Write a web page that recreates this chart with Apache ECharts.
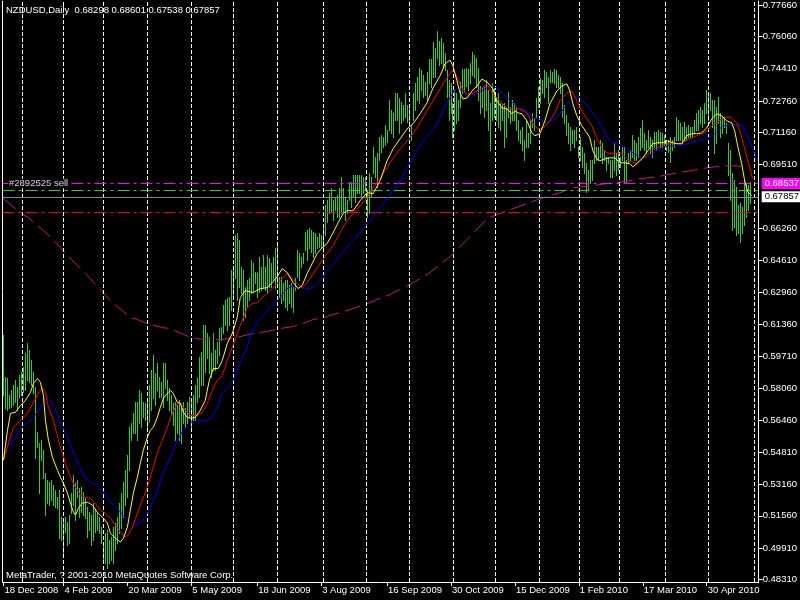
<!DOCTYPE html>
<html><head><meta charset="utf-8">
<script src="https://cdn.jsdelivr.net/npm/echarts@6/dist/echarts.min.js"></script>
<style>html,body{margin:0;padding:0;background:#000;}#c{width:800px;height:600px;}</style>
</head><body><div id="c"></div>
<script>
// ---- data ----
const symbolTitle = 'NZDUSD,Daily  0.68298 0.68601 0.67538 0.67857';
const copyright = 'MetaTrader, ? 2001-2010 MetaQuotes Software Corp.';
const orderText = '#2892525 sell';

const barHigh = [
.6077,.5863,.5858,.5771,.5797,.5822,.5848,.5812,.5873,.5889,
.5914,.5986,.6037,.6001,.5950,.5889,.5812,.5583,.5527,.5542,
.5491,.5374,.5338,.5328,.5338,.5312,.5287,.5251,.5287,.5149,
.5134,.5149,.5124,.5160,.5271,.5363,.5323,.5338,.5297,.5302,
.5277,.5246,.5200,.5175,.5160,.5221,.5185,.5170,.5149,.5098,
.5017,.5068,.5083,.5032,.5047,.5098,.5119,.5149,.5221,.5271,
.5328,.5389,.5465,.5608,.5629,.5680,.5736,.5736,.5797,.5782,
.5736,.5731,.5746,.5822,.5899,.5975,.5884,.5935,.5863,.5838,
.5935,.5935,.5848,.5807,.5771,.5731,.5736,.5720,.5746,.5710,
.5736,.5705,.5736,.5761,.5756,.5771,.5822,.5858,.5965,.5991,
.6129,.6129,.6088,.6067,.5986,.6088,.6001,.6042,.6113,.6118,
.6230,.6256,.6266,.6271,.6409,.6419,.6587,.6598,.6562,.6424,
.6409,.6322,.6358,.6368,.6460,.6445,.6399,.6394,.6475,.6424,
.6486,.6424,.6486,.6470,.6445,.6475,.6521,.6547,.6373,.6373,
.6343,.6358,.6358,.6333,.6343,.6322,.6368,.6511,.6496,.6475,
.6496,.6603,.6613,.6623,.6613,.6603,.6598,.6577,.6598,.6587,
.6623,.6741,.6766,.6802,.6827,.6766,.6776,.6792,.6827,.6883,
.6827,.6781,.6766,.6858,.6858,.6893,.6893,.6893,.6893,.6893,
.6883,.6883,.6817,.6904,.6883,.7036,.6985,.7005,.7087,.7097,
.7087,.7148,.7123,.7276,.7225,.7210,.7312,.7312,.7286,.7266,
.7251,.7312,.7251,.7240,.7148,.7312,.7363,.7394,.7444,.7429,
.7404,.7368,.7419,.7490,.7490,.7572,.7546,.7633,.7582,.7597,
.7567,.7516,.7429,.7378,.7363,.7261,.7327,.7312,.7276,.7368,
.7439,.7439,.7444,.7439,.7465,.7521,.7506,.7495,.7444,.7352,
.7342,.7342,.7378,.7327,.7261,.7363,.7337,.7276,.7312,.7261,
.7261,.7261,.7235,.7317,.7240,.7276,.7261,.7240,.7174,.7123,
.7138,.7072,.7174,.7108,.7174,.7210,.7184,.7286,.7342,.7388,
.7378,.7429,.7419,.7394,.7429,.7419,.7439,.7429,.7404,.7394,
.7363,.7251,.7200,.7159,.7138,.7123,.7123,.7138,.7036,.7087,
.7036,.7005,.6954,.6919,.6970,.6970,.7072,.7036,.7036,.7072,
.7057,.7021,.6985,.6985,.6970,.6970,.7057,.7005,.7021,.6985,
.7036,.7036,.6970,.7005,.7021,.7097,.7072,.7057,.7087,.7133,
.7174,.7108,.7072,.7123,.7087,.7072,.7113,.7113,.7123,.7113,
.7108,.7097,.7072,.7072,.7087,.7072,.7087,.7189,.7174,.7159,
.7138,.7164,.7138,.7148,.7138,.7138,.7174,.7210,.7225,.7240,
.7225,.7261,.7327,.7317,.7312,.7276,.7276,.7240,.7291,.7210,
.7189,.7189,.7159,.7057,.7021,.6904,.6868,.6832,.6741,.6751,
.6730,.6868,.6853,.6842,.6860
];
const barLow = [
.5771,.5705,.5695,.5705,.5710,.5720,.5736,.5695,.5761,.5771,
.5787,.5797,.5848,.5838,.5822,.5782,.5450,.5506,.5271,.5440,
.5348,.5160,.5221,.5211,.5236,.5211,.5200,.5195,.5042,.5032,
.4946,.5073,.5006,.5017,.5170,.5211,.5134,.5251,.5149,.5175,
.5160,.5144,.5047,.5083,.5006,.5032,.5073,.5083,.5068,.5017,
.4915,.4915,.4889,.4915,.4930,.4915,.4981,.5017,.5068,.5093,
.5149,.5211,.5251,.5389,.5542,.5578,.5578,.5542,.5629,.5608,
.5659,.5644,.5593,.5634,.5695,.5756,.5720,.5797,.5761,.5761,
.5710,.5807,.5746,.5695,.5670,.5619,.5542,.5578,.5542,.5527,
.5629,.5608,.5629,.5659,.5593,.5644,.5644,.5736,.5761,.5822,
.5822,.5889,.5960,.5884,.5863,.5899,.5899,.5935,.5975,.6052,
.6088,.6129,.6103,.6129,.6205,.6271,.6368,.6256,.6322,.6292,
.6154,.6169,.6220,.6256,.6292,.6297,.6343,.6271,.6297,.6307,
.6317,.6307,.6292,.6322,.6322,.6358,.6317,.6322,.6271,.6241,
.6256,.6220,.6205,.6241,.6220,.6195,.6307,.6373,.6358,.6424,
.6445,.6511,.6460,.6521,.6501,.6475,.6496,.6521,.6526,.6521,
.6501,.6587,.6654,.6700,.6705,.6664,.6715,.6680,.6680,.6700,
.6700,.6664,.6700,.6766,.6730,.6781,.6756,.6802,.6802,.6781,
.6802,.6817,.6680,.6700,.6781,.6904,.6883,.6832,.6970,.7011,
.7036,.7046,.7062,.7123,.7108,.7087,.7174,.7174,.7108,.7159,
.7174,.7189,.7164,.7159,.7072,.7174,.7225,.7276,.7261,.7327,
.7291,.7302,.7276,.7363,.7342,.7394,.7394,.7495,.7455,.7465,
.7444,.7429,.7291,.7174,.7210,.7087,.7123,.7159,.7174,.7240,
.7312,.7317,.7352,.7327,.7363,.7404,.7394,.7342,.7276,.7210,
.7240,.7189,.7225,.7123,.7021,.7174,.7189,.7174,.7138,.7123,
.7174,.7036,.7087,.7189,.7159,.7174,.7174,.7123,.7072,.7057,
.7021,.6970,.7036,.7036,.7057,.7138,.7123,.7189,.7240,.7261,
.7312,.7291,.7342,.7261,.7368,.7368,.7363,.7342,.7342,.7312,
.7189,.7159,.7097,.7057,.7021,.7057,.7036,.7072,.6985,.6970,
.6934,.6904,.6807,.6817,.6853,.6868,.6954,.6970,.6970,.6985,
.6954,.6970,.6919,.6954,.6883,.6883,.6919,.6893,.6919,.6934,
.6970,.6853,.6853,.6954,.6970,.6985,.6970,.6970,.6985,.7021,
.7036,.7021,.7005,.7036,.7005,.6985,.7036,.7021,.7057,.7036,
.7036,.7046,.7021,.7011,.6960,.7021,.7036,.7072,.7072,.7072,
.7057,.7072,.7072,.7087,.7087,.7087,.7108,.7123,.7123,.7159,
.7138,.7159,.7210,.7174,.7225,.7138,.7005,.7057,.7159,.7087,
.7108,.7138,.7108,.6893,.6766,.6613,.6628,.6587,.6598,.6552,
.6598,.6638,.6680,.6715,.6754
];

// moving averages: [bar index, price]
const maYellow = [[0,.5440],[2,.5593],[3.5,.5680],[6,.5685],[8.5,.5720],[11,.5746],[13.5,.5787],[15,.5833],[17,.5858],[18.5,.5838],[20,.5771],[21,.5644],[22.5,.5542],[24.5,.5455],[27,.5389],[28.5,.5353],[30,.5323],[32,.5272],[33.5,.5221],[35,.5175],[36,.5160],[37.5,.5195],[39.5,.5221],[42,.5226],[44.5,.5211],[47,.5175],[49.5,.5149],[52,.5119],[53.5,.5068],[56,.5042],[58.5,.5022],[60,.5042],[62,.5098],[63.5,.5185],[65,.5272],[67,.5353],[68.5,.5425],[70,.5491],[72,.5557],[73.5,.5593],[75,.5608],[77,.5659],[78.5,.5710],[80,.5756],[82,.5782],[83.5,.5797],[85,.5782],[87,.5736],[88.5,.5731],[90,.5685],[92,.5659],[93.5,.5654],[96,.5659],[98.5,.5695],[101,.5746],[103,.5848],[105,.5909],[107.5,.5909],[109.5,.5950],[112,.6037],[114.5,.6088],[117,.6169],[118.5,.6271],[121,.6307],[125,.6297],[128.5,.6317],[132,.6322],[135,.6353],[137,.6378],[139.5,.6419],[142,.6399],[145,.6348],[147.5,.6317],[149.5,.6333],[152,.6394],[154.5,.6445],[157,.6496],[159.5,.6526],[162,.6547],[165,.6603],[167.5,.6654],[170,.6700],[172,.6715],[175,.6715],[178.5,.6766],[182,.6807],[185,.6802],[188.5,.6868],[192,.6970],[195,.7031],[198.5,.7082],[202,.7133],[205,.7159],[208.5,.7210],[212,.7266],[215,.7342],[218.5,.7404],[221,.7465],[223.5,.7485],[225,.7454],[227,.7378],[228.5,.7317],[230,.7286],[232,.7291],[234.5,.7327],[237,.7352],[239.5,.7388],[240.5,.7393],[242.5,.7368],[245,.7337],[247,.7276],[249.5,.7240],[252,.7235],[254.5,.7210],[256,.7225],[257.5,.7215],[259.5,.7210],[262,.7174],[264.5,.7113],[266,.7098],[268.5,.7108],[271,.7174],[273.5,.7261],[277,.7327],[279.5,.7352],[282,.7363],[283.5,.7327],[285,.7261],[287,.7200],[289.5,.7149],[292,.7113],[293.5,.7087],[295,.7021],[297,.6980],[298.5,.6970],[301,.6980],[303.5,.6985],[306,.6985],[308.5,.6960],[311,.6960],[313.5,.6955],[315,.6939],[317.5,.6960],[320,.6985],[322.5,.7021],[325,.7057],[327.5,.7062],[330,.7062],[332.5,.7072],[335,.7062],[337.5,.7057],[339.5,.7057],[342,.7098],[344.5,.7108],[347,.7108],[349.5,.7113],[352,.7138],[354.5,.7184],[357,.7210],[359.5,.7200],[362,.7174],[364.5,.7164],[366,.7123],[367.5,.7046],[369.5,.6955],[371,.6868],[372.5,.6812],[374.5,.6792]];

const maRed = [[0,.5440],[2.5,.5527],[5,.5608],[8.5,.5644],[12,.5680],[15,.5736],[17.5,.5782],[19.5,.5807],[21,.5787],[22.5,.5710],[25,.5644],[27.5,.5542],[29.5,.5476],[31,.5425],[33.5,.5353],[36,.5302],[38.5,.5262],[41,.5251],[43.5,.5246],[46,.5221],[48.5,.5185],[51,.5170],[53.5,.5144],[56,.5109],[58.5,.5073],[61,.5047],[62.5,.5058],[64.5,.5098],[67,.5170],[69.5,.5236],[72,.5302],[74.5,.5389],[77,.5476],[79.5,.5542],[82,.5608],[84.5,.5680],[87,.5731],[88.5,.5736],[91,.5695],[93.5,.5670],[97,.5670],[99.5,.5685],[102,.5731],[104.5,.5797],[107,.5848],[109.5,.5873],[112,.5950],[114.5,.6016],[117,.6088],[119.5,.6154],[122,.6220],[124.5,.6241],[127,.6246],[129.5,.6271],[132,.6292],[134.5,.6317],[137,.6343],[139.5,.6368],[142,.6394],[144.5,.6368],[147,.6343],[149.5,.6322],[152,.6348],[154.5,.6384],[157,.6424],[159.5,.6460],[162,.6496],[165,.6537],[168.5,.6603],[172,.6664],[175,.6700],[178.5,.6741],[182,.6781],[185,.6832],[188.5,.6883],[192,.6934],[195,.6985],[198.5,.7031],[202,.7072],[205,.7108],[208.5,.7164],[212,.7225],[215,.7276],[218.5,.7337],[222,.7393],[224.5,.7429],[226,.7419],[227.5,.7388],[229.5,.7342],[232,.7312],[234.5,.7312],[237,.7327],[239.5,.7342],[242,.7363],[244.5,.7317],[247,.7291],[249.5,.7266],[252,.7240],[255,.7235],[258.5,.7235],[262,.7215],[265,.7159],[267.5,.7133],[270,.7138],[273.5,.7174],[276,.7215],[278.5,.7276],[282,.7317],[284.5,.7327],[287,.7276],[289.5,.7225],[292,.7184],[294.5,.7149],[297,.7087],[299.5,.7036],[302,.7011],[304.5,.7006],[307,.7011],[309.5,.7006],[312,.6980],[314.5,.6960],[317,.6960],[319.5,.6980],[322,.6996],[324.5,.7021],[327,.7036],[329.5,.7046],[332,.7057],[337,.7057],[339.5,.7062],[342,.7077],[344.5,.7087],[347,.7098],[349.5,.7108],[352,.7123],[354.5,.7149],[357,.7164],[359.5,.7184],[362,.7194],[364.5,.7189],[367,.7164],[369,.7108],[371,.7031],[373,.6955],[375,.6878]];

const maBlue = [[0,.5532],[3.5,.5517],[6,.5557],[8.5,.5603],[12,.5629],[15,.5659],[18.5,.5710],[21,.5756],[23.5,.5746],[26,.5695],[28.5,.5634],[31,.5578],[33.5,.5517],[36,.5455],[38.5,.5399],[41,.5348],[43.5,.5328],[47,.5313],[49.5,.5287],[52,.5246],[55,.5211],[58.5,.5175],[62,.5134],[64.5,.5119],[66,.5109],[68.5,.5119],[71,.5149],[73.5,.5200],[77,.5287],[80,.5374],[83.5,.5455],[87,.5542],[90,.5593],[93.5,.5629],[97,.5644],[102,.5644],[104.5,.5659],[107,.5710],[109.5,.5782],[112,.5807],[114.5,.5838],[117,.5899],[119.5,.5965],[122,.6016],[123.5,.6078],[126,.6129],[128.5,.6164],[131,.6190],[133.5,.6220],[136,.6246],[138.5,.6271],[141,.6307],[143.5,.6327],[148.5,.6322],[153.5,.6317],[156,.6333],[158.5,.6358],[161,.6394],[163.5,.6424],[168.5,.6486],[173.5,.6547],[178.5,.6603],[183.5,.6664],[187,.6715],[192,.6776],[197,.6843],[200,.6893],[203.5,.6960],[207,.7021],[210,.7072],[213.5,.7108],[217,.7159],[220,.7225],[222.5,.7276],[225,.7317],[227.5,.7342],[230,.7327],[232.5,.7301],[235,.7301],[237.5,.7317],[241,.7337],[244.5,.7352],[247,.7342],[249.5,.7317],[252,.7291],[255,.7266],[258.5,.7240],[262,.7225],[265,.7189],[268.5,.7184],[272,.7164],[275,.7174],[278.5,.7210],[282,.7261],[285,.7291],[287.5,.7301],[290,.7276],[292.5,.7251],[295,.7215],[297.5,.7184],[300,.7133],[302.5,.7087],[305,.7062],[307.5,.7057],[310,.7046],[312.5,.7031],[315,.7011],[317.5,.6996],[320,.6985],[322.5,.6990],[325,.7006],[327.5,.7031],[330,.7036],[332.5,.7046],[337.5,.7046],[342.5,.7057],[347.5,.7072],[352.5,.7087],[355,.7098],[357.5,.7123],[360,.7149],[365,.7154],[370,.7149],[373.5,.7072],[376,.7006],[377.5,.6970]];

const maLong = [[0,.6776],[8.5,.6705],[12.5,.6679],[20,.6613],[24.5,.6572],[32,.6486],[43.5,.6368],[47.5,.6322],[55,.6241],[59.5,.6205],[63.5,.6169],[67,.6159],[72,.6139],[79.5,.6118],[83.5,.6113],[90,.6083],[95,.6062],[102.5,.6057],[108.5,.6057],[113.5,.6062],[118.5,.6072],[125,.6088],[132,.6098],[138.5,.6113],[145,.6123],[150,.6139],[155,.6159],[160,.6169],[163.5,.6180],[173.5,.6210],[183.5,.6246],[193.5,.6287],[203.5,.6338],[213.5,.6399],[223.5,.6480],[233.5,.6582],[242,.6674],[252,.6715],[262,.6751],[268.5,.6776],[278.5,.6807],[285,.6832],[293.5,.6842],[302,.6853],[310,.6863],[318.5,.6878],[327,.6888],[335,.6904],[343.5,.6919],[352,.6934],[360,.6944],[367,.6944],[372,.6934]];

const priceTicks = [0.4831,0.4991,0.5156,0.5316,0.5481,0.5646,0.5806,0.5971,0.6136,0.6296,0.6461,0.6626,0.6951,0.7116,0.7276,0.7441,0.7606,0.7766];
const dateLabels = ['18 Dec 2008','4 Feb 2009','20 Mar 2009','5 May 2009','18 Jun 2009','3 Aug 2009','16 Sep 2009','30 Oct 2009','15 Dec 2009','1 Feb 2010','17 Mar 2010','30 Apr 2010'];
const dateLabelIdx = [0,30,62,94,127,159,192,224,256,288,320,352];
const monthSeparators = [9.5,30,50,72,94,115,137,160,181.5,203,225,246,268,288,308,331,353,376];
const orderOpen = 0.68537;
const orderGreen = 0.68196;
const bidPrice = 0.67857;
const orderRed = 0.67074;

// ---- chart ----
const FONT = 'Liberation Sans';
const FS = 9.5;
const chart = echarts.init(document.getElementById('c'));
const dashDot = [12,4,3,4];
chart.setOption({
  backgroundColor:'#000',
  animation:false,
  textStyle:{fontFamily:FONT, fontSize:FS},
  title:{text:symbolTitle, left:6, top:5, padding:0,
    textStyle:{color:'#fff', fontSize:FS, fontWeight:'normal', fontFamily:FONT}},
  graphic:[{type:'text', left:6, top:570, z:50,
    style:{text:copyright, fill:'#fff', font:FS+'px '+FONT}}],
  grid:{left:2.5, top:0, width:757, height:582, show:false},
  xAxis:{type:'value', min:-0.5, max:378,
    axisLine:{onZero:false, lineStyle:{color:'#fff', width:1}},
    axisTick:{show:true, customValues:dateLabelIdx, length:4, lineStyle:{color:'#fff'}},
    axisLabel:{customValues:dateLabelIdx, color:'#fff', fontSize:FS, fontFamily:FONT, align:'left', margin:3, padding:[0,0,0,1],
      formatter:v=>dateLabels[dateLabelIdx.indexOf(v)] || ''},
    splitLine:{show:false}},
  yAxis:[
    {type:'value', position:'right', min:0.4818, max:0.7786,
      axisLine:{show:true, onZero:false, lineStyle:{color:'#fff'}},
      axisTick:{show:true, customValues:priceTicks, length:4, lineStyle:{color:'#fff'}},
      axisLabel:{customValues:priceTicks, color:'#fff', fontSize:FS, fontFamily:FONT, margin:4,
        formatter:v=>v.toFixed(5)},
      splitLine:{show:false}},
    {type:'value', position:'left', min:0.4818, max:0.7786,
      axisLine:{show:true, onZero:false, lineStyle:{color:'#fff'}},
      axisTick:{show:false}, axisLabel:{show:false}, splitLine:{show:false}}
  ],
  series:[
    {type:'line', name:'separators', data:[], z:1, silent:true,
      markLine:{silent:true, symbol:['none','none'], animation:false, label:{show:false},
        lineStyle:{color:'#fff', type:[4,2], width:1},
        data:monthSeparators.map(v=>({xAxis:v}))}},
    {type:'line', name:'orders', data:[], z:2, silent:true,
      markLine:{silent:true, symbol:['none','none'], animation:false, precision:5,
        data:[
          {yAxis:orderGreen, lineStyle:{color:'#32cd32', type:dashDot, width:1}, label:{show:false}},
          {yAxis:orderRed, lineStyle:{color:'#ff0000', type:dashDot, width:1}, label:{show:false}},
          {yAxis:orderOpen, lineStyle:{color:'#ff00ff', type:dashDot, width:1},
            label:{show:true, position:'end', distance:3, formatter:p=>Number(p.value).toFixed(5),
              backgroundColor:'#ff00ff', color:'#fff', padding:[1,5,0,3], fontSize:FS, fontFamily:FONT, lineHeight:10}},
          {yAxis:bidPrice, lineStyle:{color:'#778899', type:'solid', width:1},
            label:{show:true, position:'end', distance:3, formatter:p=>Number(p.value).toFixed(5),
              backgroundColor:'#fff', color:'#000', padding:[1,5,0,3], fontSize:FS, fontFamily:FONT, lineHeight:10}}
        ]}},
    {type:'custom', name:'bars', z:3, silent:true,
      data:barHigh.map((h,i)=>[i,h,barLow[i]]),
      encode:{x:0, y:[1,2]},
      renderItem:(params, api)=>{
        const i = api.value(0);
        const a = api.coord([i, api.value(1)]);
        const b = api.coord([i, api.value(2)]);
        const x = Math.round(a[0] - 0.5);
        const y0 = Math.floor(a[1]);
        return {type:'rect', shape:{x:x, y:y0, width:1, height:Math.max(1, Math.ceil(b[1]) - y0)},
          style:{fill:'#32cd32', stroke:null}};
      }},
    {type:'line', name:'MA long', data:maLong, showSymbol:false, z:4, silent:true,
      lineStyle:{color:'#c71585', width:1, type:[16,6]}},
    {type:'line', name:'MA slow', data:maBlue, showSymbol:false, z:5, silent:true,
      lineStyle:{color:'#0000ff', width:1}},
    {type:'line', name:'MA mid', data:maRed, showSymbol:false, z:6, silent:true,
      lineStyle:{color:'#ff0000', width:1}},
    {type:'line', name:'MA fast', data:maYellow, showSymbol:false, z:7, silent:true,
      lineStyle:{color:'#ffff00', width:1}},
    {type:'scatter', name:'order', data:[[1, orderOpen]], symbolSize:1, z:8, silent:true,
      itemStyle:{color:'rgba(0,0,0,0)'},
      labelLayout:{hideOverlap:false},
      label:{show:true, position:'right', distance:2, formatter:orderText, color:'#fff',
        backgroundColor:'#000', padding:[0,1,0,1], fontSize:FS, fontFamily:FONT}}
  ]
});
</script>
</body></html>
